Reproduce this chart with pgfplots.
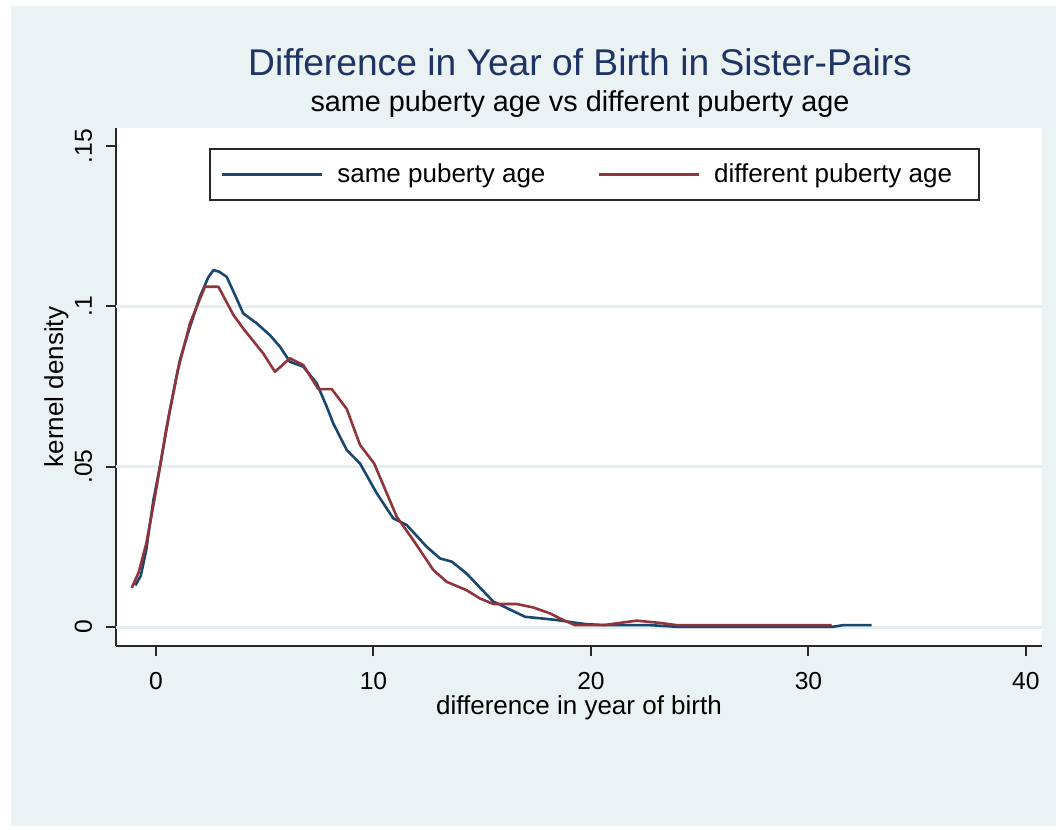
\documentclass[border=0pt]{standalone}
\usepackage{fontspec}
\setmainfont{Liberation Sans}
\usepackage{pgfplots}
\usepackage{pgfplotstable}
\pgfplotsset{compat=1.18}
\definecolor{bgc}{RGB}{234,242,243}
\definecolor{gridc}{RGB}{228,238,240}
\definecolor{sblue}{RGB}{26,71,111}
\definecolor{sred}{RGB}{144,53,59}
\definecolor{ttl}{RGB}{30,52,100}
\definecolor{axc}{RGB}{40,40,40}

\pgfplotstableread{
x y
-0.95 0.0130
-0.70 0.0160
-0.45 0.0240
-0.12 0.0396
0.18 0.0500
0.64 0.0677
1.10 0.0833
1.56 0.0936
2.02 0.1030
2.40 0.1090
2.64 0.1113
2.90 0.1108
3.25 0.1092
3.60 0.1040
4.01 0.0978
4.63 0.0947
5.24 0.0910
5.70 0.0874
6.16 0.0827
6.77 0.0812
7.39 0.0760
7.85 0.0687
8.15 0.0635
8.77 0.0552
9.38 0.0510
10.15 0.0417
10.91 0.0339
11.53 0.0318
12.45 0.0250
13.06 0.0214
13.60 0.0204
14.28 0.0167
15.50 0.0080
16.97 0.0032
17.73 0.0027
18.42 0.0022
19.34 0.0013
19.80 0.0009
20.72 0.0006
22.71 0.0006
23.94 0.0001
31.14 0.0001
31.60 0.0006
32.90 0.0006
}\same

\pgfplotstableread{
x y
-1.12 0.0122
-0.80 0.0170
-0.45 0.0260
-0.05 0.0406
0.49 0.0625
1.00 0.0800
1.56 0.0947
2.25 0.1061
2.87 0.1061
3.56 0.0973
4.01 0.0931
4.93 0.0853
5.47 0.0796
6.16 0.0838
6.77 0.0817
7.46 0.0742
8.08 0.0742
8.77 0.0680
9.38 0.0568
10.03 0.0510
11.07 0.0344
11.83 0.0271
12.75 0.0178
13.37 0.0141
14.28 0.0115
14.90 0.0089
15.51 0.0072
16.58 0.0072
17.35 0.0061
18.11 0.0043
18.57 0.0027
19.26 0.0006
20.57 0.0006
21.33 0.0013
22.10 0.0020
23.17 0.0013
23.94 0.0006
31.07 0.0006
}\diff

\begin{document}
\begin{tikzpicture}
\fill[white] (0bp,0bp) rectangle (528bp,415bp);
\fill[bgc] (5.5bp,2bp) rectangle (528bp,412bp);
\node[anchor=base, text=ttl, font=\fontsize{18.6bp}{22bp}\selectfont] at (290bp,377bp) {Difference in Year of Birth in Sister-Pairs};
\node[anchor=base, font=\fontsize{14.4bp}{17bp}\selectfont] at (290bp,359bp) {same puberty age vs different puberty age};
\begin{axis}[
  at={(58bp,92bp)}, anchor=south west,
  scale only axis, width=463bp, height=259bp,
  xmin=-1.84, xmax=40.74, ymin=-0.0059, ymax=0.1556,
  axis background/.style={fill=white},
  axis x line*=bottom, axis y line*=left,
  axis line style={axc, line width=1bp, -},
  tick align=outside, major tick length=5bp,
  tick style={axc, line width=1bp},
  xtick={0,10,20,30,40},
  ytick={0,0.05,0.1,0.15}, yticklabels={0,.05,.1,.15},
  extra y ticks={0,0.05,0.1}, extra y tick labels={},
  extra y tick style={grid=major, major tick length=0pt, major grid style={gridc, line width=1.5bp}},
  /pgf/number format/assume math mode=true,
  tick label style={font=\fontsize{12.3bp}{14bp}\selectfont},
  xticklabel style={anchor=base, yshift=-16.5bp},
  yticklabel style={rotate=90, anchor=base, yshift=7bp},
  xlabel={difference in year of birth},
  ylabel={kernel density},
  label style={font=\fontsize{13bp}{15bp}\selectfont},
  xlabel style={at={(axis description cs:0.5,-0.1332)}, anchor=base},
  ylabel style={at={(axis description cs:-0.057,0.5)}, anchor=base},
  legend style={at={(0.1004,0.961)}, anchor=north west, legend columns=2,
    draw=axc, line width=0.8bp, fill=white,
    font=\fontsize{13bp}{15bp}\selectfont,
    inner xsep=5.5bp, inner ysep=5.25bp,
    /tikz/every even column/.append style={column sep=24bp}},
  legend cell align=left,
  legend image code/.code={\draw[#1] (0bp,0bp) -- (50bp,0bp);},
]
\addplot[sblue, line width=1.3bp, line join=round] table {\same};
\addlegendentry{\kern5bp same puberty age}
\addplot[sred, line width=1.3bp, line join=round] table {\diff};
\addlegendentry{\kern5bp different puberty age\kern6bp}
\end{axis}
\pgfresetboundingbox
\useasboundingbox (0bp,0bp) rectangle (528bp,415bp);
\end{tikzpicture}
\end{document}
